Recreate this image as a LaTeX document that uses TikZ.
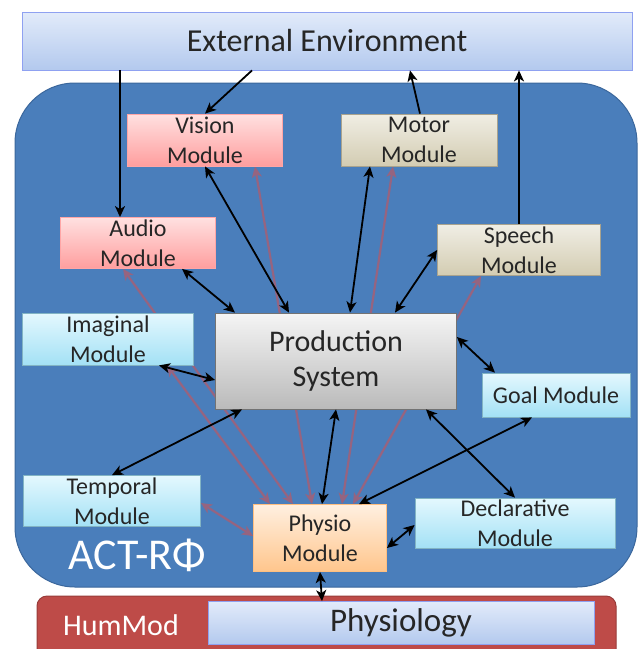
\documentclass[tikz,border=0pt]{standalone}
\usepackage{fontspec}
\setmainfont{Carlito}
\usepackage{xcolor}
\usepackage{tikz}
\usetikzlibrary{backgrounds,arrows.meta}

\definecolor{actblue}{HTML}{4A7EBB}
\definecolor{actedge}{HTML}{3B679C}
\definecolor{hummodred}{HTML}{BE4B48}
\definecolor{faintred}{RGB}{150,100,128}
\definecolor{txtgray}{HTML}{262626}
\definecolor{envtop}{HTML}{E2EBFA}
\definecolor{envbot}{HTML}{B3C9EE}
\definecolor{tantop}{HTML}{F0EEE4}
\definecolor{tanbot}{HTML}{D3CCB2}
\definecolor{cyantop}{HTML}{E4F8FE}
\definecolor{cyanbot}{HTML}{A3E1F5}

\tikzset{
    modbox/.style={draw=black!35, line width=0.8pt, align=center, text=txtgray, inner sep=0pt, font=\fontsize{24}{30}\selectfont},
    envfill/.style={top color=envtop, bottom color=envbot, draw=envbot!80!blue},
    pinkfill/.style={top color=red!12!white, bottom color=red!38!white, draw=red!35!white},
    tanfill/.style={top color=tantop, bottom color=tanbot, draw=tanbot!80!black},
    cyanfill/.style={top color=cyantop, bottom color=cyanbot, draw=cyanbot!80!black},
    grayfill/.style={top color=black!4, bottom color=black!27, draw=black!55},
    peachfill/.style={top color=orange!12!white, bottom color=orange!45!white, draw=orange!50!white},
    blk/.style={line width=1.8pt, black, <->, >={Stealth[length=11pt, width=10pt, inset=3pt]}},
    faint/.style={line width=2.2pt, faintred, <->, >={Stealth[length=11pt, width=10pt, inset=3pt]}}
}

\begin{document}
\begin{tikzpicture}[x=1pt, y=-1pt]

    \clip (0,0) rectangle (639,649);

    % modules
    \node [modbox, envfill, minimum width=610pt, minimum height=58pt, font=\fontsize{32}{36}\selectfont] (env) at (327,41) {External Environment};
    \node [modbox, pinkfill, minimum width=155pt, minimum height=52pt] (vision) at (205,140) {Vision\\Module};
    \node [modbox, tanfill, minimum width=156pt, minimum height=52pt] (motor) at (419,140) {Motor\\Module};
    \node [modbox, pinkfill, minimum width=155pt, minimum height=51pt] (audio) at (138,243) {Audio\\Module};
    \node [modbox, tanfill, minimum width=163pt, minimum height=51pt] (speech) at (519,250) {Speech\\Module};
    \node [modbox, cyanfill, minimum width=171pt, minimum height=52pt] (imaginal) at (108,339) {Imaginal\\Module};
    \node [modbox, grayfill, minimum width=241pt, minimum height=96pt, font=\fontsize{30}{35}\selectfont] (prod) at (336,361) {Production\\System};
    \node [modbox, cyanfill, minimum width=148pt, minimum height=44pt, font=\fontsize{24}{30}\selectfont] (goal) at (556,395) {Goal Module};
    \node [modbox, cyanfill, minimum width=177pt, minimum height=51pt] (temporal) at (112,501) {Temporal\\Module};
    \node [modbox, peachfill, minimum width=133pt, minimum height=67pt] (physio) at (320,538) {Physio\\Module};
    \node [modbox, cyanfill, minimum width=200pt, minimum height=50pt] (declarative) at (515,523) {Declarative\\Module};
    \node [modbox, envfill, minimum width=386pt, minimum height=43pt, font=\fontsize{33}{36}\selectfont] (physiology) at (401,623) {Physiology};

    % labels
    \node [text=white, font=\fontsize{44}{48}\selectfont, anchor=base] (actr) at (137,569) {ACT-RΦ};
    \node [text=white, font=\fontsize{30}{34}\selectfont, anchor=base] (hummod) at (121,635) {HumMod};

    \begin{scope}[on background layer]
        \fill [white] (0,0) rectangle (639,649);
        \filldraw [fill=actblue, draw=actedge, line width=1pt, rounded corners=60pt] (15,83) rectangle (637,587);
        \filldraw [fill=hummodred, draw=hummodred!80!black, line width=1pt, rounded corners=10pt] (37,596) rectangle (616,665);

        % physio links
        \draw [faint] ([xshift=59]imaginal.south) -- ([xshift=-50]physio.north);
        \draw [faint] ([xshift=-15]audio.south) -- ([xshift=-27]physio.north);
        \draw [faint] ([xshift=50]vision.south) -- ([xshift=-8]physio.north);
        \draw [faint] ([xshift=-26]motor.south) -- ([xshift=22]physio.north);
        \draw [faint] ([xshift=-38]speech.south) -- ([xshift=33]physio.north);
        \draw [faint] ([yshift=-2]temporal.east) -- ([yshift=2]physio.west);
    \end{scope}

    % environment
    \draw [blk, ->] ([xshift=-207]env.south) -- ([xshift=-18]audio.north);
    \draw [blk, ->] ([xshift=-75]env.south) -- (vision.north);
    \draw [blk, ->] ([xshift=1]motor.north) -- ([xshift=83]env.south);
    \draw [blk, ->] (speech.north) -- ([xshift=192]env.south);

    % production
    \draw [blk] (vision.south) -- ([xshift=-47]prod.north);
    \draw [blk] ([xshift=-49]motor.south) -- ([xshift=14]prod.north);
    \draw [blk] ([xshift=44]audio.south) -- ([xshift=-101]prod.north);
    \draw [blk] (speech.west) -- ([xshift=59]prod.north);
    \draw [blk] ([xshift=51]imaginal.south) -- ([yshift=-19]prod.west);
    \draw [blk] ([yshift=24]prod.east) -- ([xshift=-61]goal.north);
    \draw [blk] ([xshift=-94]prod.south) -- (temporal.north);
    \draw [blk] (prod.south) -- ([xshift=2]physio.north);
    \draw [blk] ([xshift=90]prod.south) -- (declarative.north);

    % physio
    \draw [blk] ([xshift=-24]goal.south) -- ([xshift=39]physio.north);
    \draw [blk] ([yshift=-10]physio.east) -- ([yshift=-2]declarative.west);
    \draw [blk] (physio.south) -- ([xshift=-79]physiology.north);

\end{tikzpicture}
\end{document}
